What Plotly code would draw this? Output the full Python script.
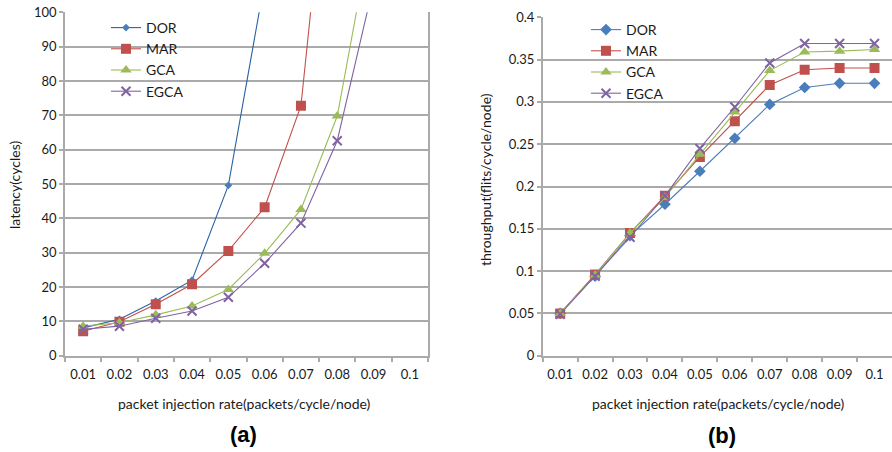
import plotly.graph_objects as go

rates = ["0.01", "0.02", "0.03", "0.04", "0.05", "0.06", "0.07", "0.08", "0.09", "0.1"]
series_names = ["DOR", "MAR", "GCA", "EGCA"]

# (a) latency (cycles); values beyond the axis top leave the plot
lat_dor = [8.1, 10.6, 15.9, 22.0, 49.6, 109.0]
lat_mar = [7.1, 9.9, 15.0, 20.8, 30.5, 43.2, 72.8, 175.0]
lat_gca = [8.6, 9.6, 11.9, 14.5, 19.3, 29.8, 42.6, 69.8, 127.0]
lat_egca = [7.7, 8.6, 10.9, 13.0, 17.0, 26.9, 38.6, 62.6, 108.0]

# (b) throughput (flits/cycle/node)
thr_dor = [0.050, 0.094, 0.142, 0.179, 0.218, 0.257, 0.297, 0.317, 0.322, 0.322]
thr_mar = [0.050, 0.096, 0.145, 0.189, 0.235, 0.277, 0.320, 0.338, 0.340, 0.340]
thr_gca = [0.050, 0.095, 0.145, 0.187, 0.238, 0.288, 0.337, 0.359, 0.360, 0.362]
thr_egca = [0.049, 0.094, 0.140, 0.189, 0.245, 0.294, 0.346, 0.369, 0.369, 0.369]

W, H = 892, 452
FONT = "Lato"
GRID = "#AAAAAA"
TXT = "#1a1a1a"

styles = {
    "DOR":  dict(line="#2C62A6", marker="#4A7EBB", symbol="diamond", size_a=6, size_b=9),
    "MAR":  dict(line="#C0504D", marker="#C0504D", symbol="square", size_a=10, size_b=10),
    "GCA":  dict(line="#9BBB59", marker="#9BBB59", symbol="triangle-up", size_a=10, size_b=10),
    "EGCA": dict(line="#8064A2", marker="#8064A2", symbol="x-thin", size_a=9, size_b=9),
}
styles_b_line = {"DOR": "#4A7EBB", "MAR": "#C0504D", "GCA": "#9BBB59", "EGCA": "#8064A2"}

fig = go.Figure()

lat_data = [lat_dor, lat_mar, lat_gca, lat_egca]
thr_data = [thr_dor, thr_mar, thr_gca, thr_egca]

for name, ys in zip(series_names, lat_data):
    s = styles[name]
    mk = dict(color=s["marker"], symbol=s["symbol"], size=s["size_a"])
    if name == "EGCA":
        mk["line"] = dict(color=s["marker"], width=2)
    fig.add_trace(go.Scatter(
        x=rates[:len(ys)], y=ys, name=name, mode="lines+markers",
        line=dict(color=s["line"], width=1.1), marker=mk,
        xaxis="x", yaxis="y", legend="legend", cliponaxis=True,
    ))

for name, ys in zip(series_names, thr_data):
    s = styles[name]
    mk = dict(color=s["marker"], symbol=s["symbol"], size=s["size_b"])
    if name == "EGCA":
        mk["line"] = dict(color=s["marker"], width=2)
    fig.add_trace(go.Scatter(
        x=rates, y=ys, name=name, mode="lines+markers",
        line=dict(color=styles_b_line[name], width=1.1), marker=mk,
        xaxis="x2", yaxis="y2", legend="legend2",
    ))

def px_x(p):
    return p / W

def px_y(p):
    return 1 - p / H

common_x = dict(
    type="category", categoryorder="array", categoryarray=rates,
    tickson="boundaries", ticks="outside", ticklen=5, tickangle=0,
    tickcolor=GRID, tickwidth=1.5, showline=True, linecolor=GRID, linewidth=1.5,
    showgrid=False, zeroline=False, range=[-0.5, 9.5], fixedrange=True,
    tickfont=dict(family=FONT, size=13, color=TXT), ticklabelstandoff=6,
    automargin=False,
)
common_y = dict(
    ticks="outside", ticklen=4, tickcolor=GRID, tickwidth=1.5,
    showline=True, linecolor=GRID, linewidth=1.5, showgrid=True,
    gridcolor=GRID, gridwidth=1.6, zeroline=False,
    tickfont=dict(family=FONT, size=13, color=TXT), automargin=False,
)

y_bot = px_y(355.7)
fig.update_layout(
    width=W, height=H, margin=dict(l=0, r=0, t=0, b=0),
    paper_bgcolor="white", plot_bgcolor="white",
    template="none",
    xaxis=dict(domain=[px_x(65), px_x(428)], anchor="y", **common_x),
    yaxis=dict(domain=[y_bot, px_y(12.3)], anchor="x", range=[0, 100], dtick=10,
               mirror=True, **common_y),
    xaxis2=dict(domain=[px_x(542.7), 1.0], anchor="y2", **common_x),
    yaxis2=dict(domain=[y_bot, px_y(17.3)], anchor="x2", range=[0, 0.4], dtick=0.05,
                tickformat="~g", **common_y),
    legend=dict(x=px_x(106), y=px_y(12), xanchor="left", yanchor="top",
                bgcolor="rgba(255,255,255,0)", font=dict(family=FONT, size=14, color=TXT),
                tracegroupgap=0, itemwidth=30),
    legend2=dict(x=px_x(586), y=px_y(14), xanchor="left", yanchor="top",
                 bgcolor="rgba(255,255,255,0)", font=dict(family=FONT, size=14, color=TXT),
                 tracegroupgap=0, itemwidth=30),
    showlegend=True,
)

ann = [
    dict(text="latency(cycles)", x=px_x(14), y=px_y(185), textangle=-90,
         font=dict(family=FONT, size=14, color=TXT)),
    dict(text="throughput(flits/cycle/node)", x=px_x(486), y=px_y(180), textangle=-90,
         font=dict(family=FONT, size=14, color=TXT)),
    dict(text="packet injection rate(packets/cycle/node)", x=px_x(244), y=px_y(403),
         font=dict(family=FONT, size=14, color=TXT)),
    dict(text="packet injection rate(packets/cycle/node)", x=px_x(718), y=px_y(403),
         font=dict(family=FONT, size=14, color=TXT)),
    dict(text="<b>(a)</b>", x=px_x(243), y=px_y(434),
         font=dict(family="Liberation Sans", size=22, color="black")),
    dict(text="<b>(b)</b>", x=px_x(722), y=px_y(435),
         font=dict(family="Liberation Sans", size=22, color="black")),
]
for a in ann:
    a.update(xref="paper", yref="paper", showarrow=False, xanchor="center", yanchor="middle")
fig.update_layout(annotations=ann)

fig.write_html("out.html")
